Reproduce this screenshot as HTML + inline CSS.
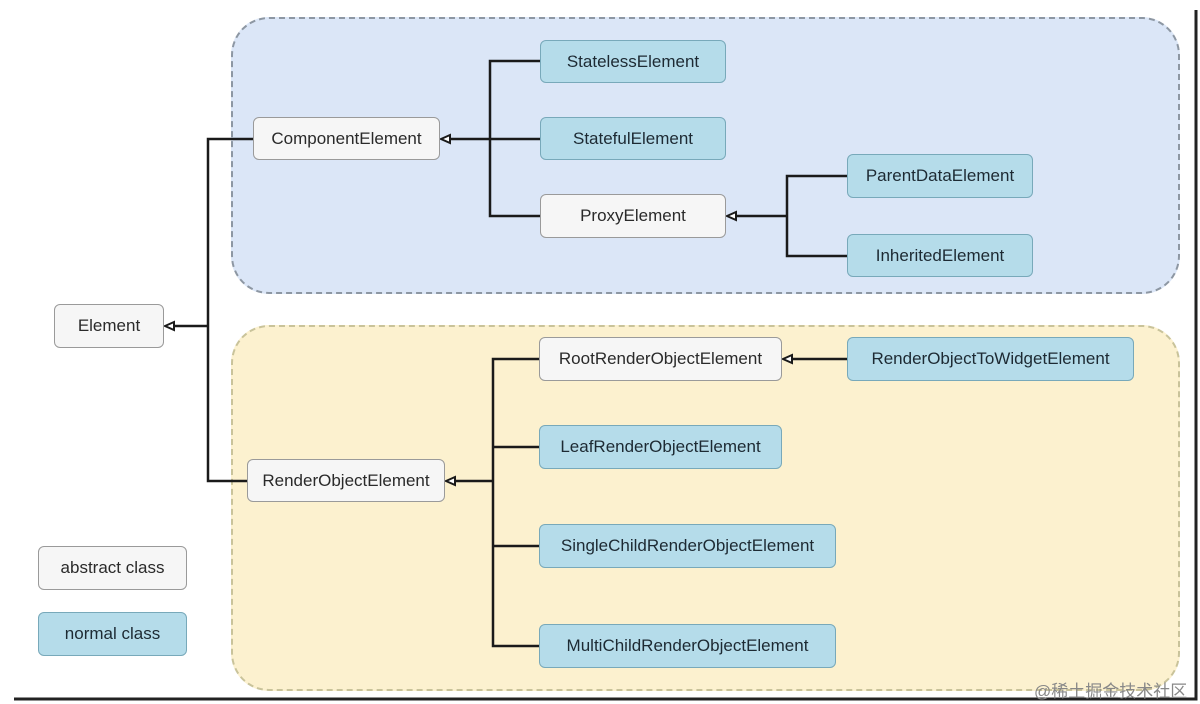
<!DOCTYPE html>
<html><head><style>
body{margin:0;width:1200px;height:704px;background:#fff;position:relative;overflow:hidden;font-family:"Liberation Sans",sans-serif}
.r{position:absolute;border-radius:38px;box-sizing:border-box}
.n{position:absolute;box-sizing:border-box;border-radius:6px;display:flex;align-items:center;justify-content:center;font-size:17px;color:#2a2a2a;white-space:nowrap}
.a{background:#f6f6f6;border:1.5px solid #9a9a9a}
.b{background:#b5dcea;border:1.5px solid #78a9ba;color:#1d2a33}
svg{position:absolute;left:0;top:0}
</style></head><body>
<div class="r" style="left:231px;top:17px;width:949px;height:277px;background:#dbe6f7;border:2px dashed #8d97a3"></div>
<div class="r" style="left:231px;top:325px;width:949px;height:366px;background:#fcf1cf;border:2px dashed #c9c39a"></div>
<svg width="1200" height="704">
<g fill="none" stroke="#1a1a1a" stroke-width="2.5">
<path d="M253 139H208V481H247"/>
<path d="M208 326H172"/>
<path d="M540 61H490V216H540M540 139H448"/>
<path d="M847 176H787V256H847M787 216H734"/>
<path d="M539 359H493V646H539M539 447H493M539 546H493M493 481H453"/>
<path d="M847 359H790"/>
</g>
<g fill="#fff" stroke="#1a1a1a" stroke-width="2">
<path d="M165 326l9-4v8z"/>
<path d="M441 139l9-4v8z"/>
<path d="M727 216l9-4v8z"/>
<path d="M446 481l9-4v8z"/>
<path d="M783 359l9-4v8z"/>
</g>
<path d="M14 699H1196V10" fill="none" stroke="#222" stroke-width="3"/>
</svg>
<div class="n a" style="left:54px;top:304px;width:110px;height:44px">Element</div>
<div class="n a" style="left:253px;top:117px;width:187px;height:43px">ComponentElement</div>
<div class="n b" style="left:540px;top:40px;width:186px;height:43px">StatelessElement</div>
<div class="n b" style="left:540px;top:117px;width:186px;height:43px">StatefulElement</div>
<div class="n a" style="left:540px;top:194px;width:186px;height:44px">ProxyElement</div>
<div class="n b" style="left:847px;top:154px;width:186px;height:44px">ParentDataElement</div>
<div class="n b" style="left:847px;top:234px;width:186px;height:43px">InheritedElement</div>
<div class="n a" style="left:247px;top:459px;width:198px;height:43px">RenderObjectElement</div>
<div class="n a" style="left:539px;top:337px;width:243px;height:44px">RootRenderObjectElement</div>
<div class="n b" style="left:847px;top:337px;width:287px;height:44px">RenderObjectToWidgetElement</div>
<div class="n b" style="left:539px;top:425px;width:243px;height:44px">LeafRenderObjectElement</div>
<div class="n b" style="left:539px;top:524px;width:297px;height:44px">SingleChildRenderObjectElement</div>
<div class="n b" style="left:539px;top:624px;width:297px;height:44px">MultiChildRenderObjectElement</div>
<div class="n a" style="left:38px;top:546px;width:149px;height:44px">abstract class</div>
<div class="n b" style="left:38px;top:612px;width:149px;height:44px">normal class</div>
<div style="position:absolute;left:1034px;top:677px;font-size:17px;color:#888;font-family:'Liberation Sans','Noto Sans CJK SC',sans-serif">@稀土掘金技术社区</div>
</body></html>
